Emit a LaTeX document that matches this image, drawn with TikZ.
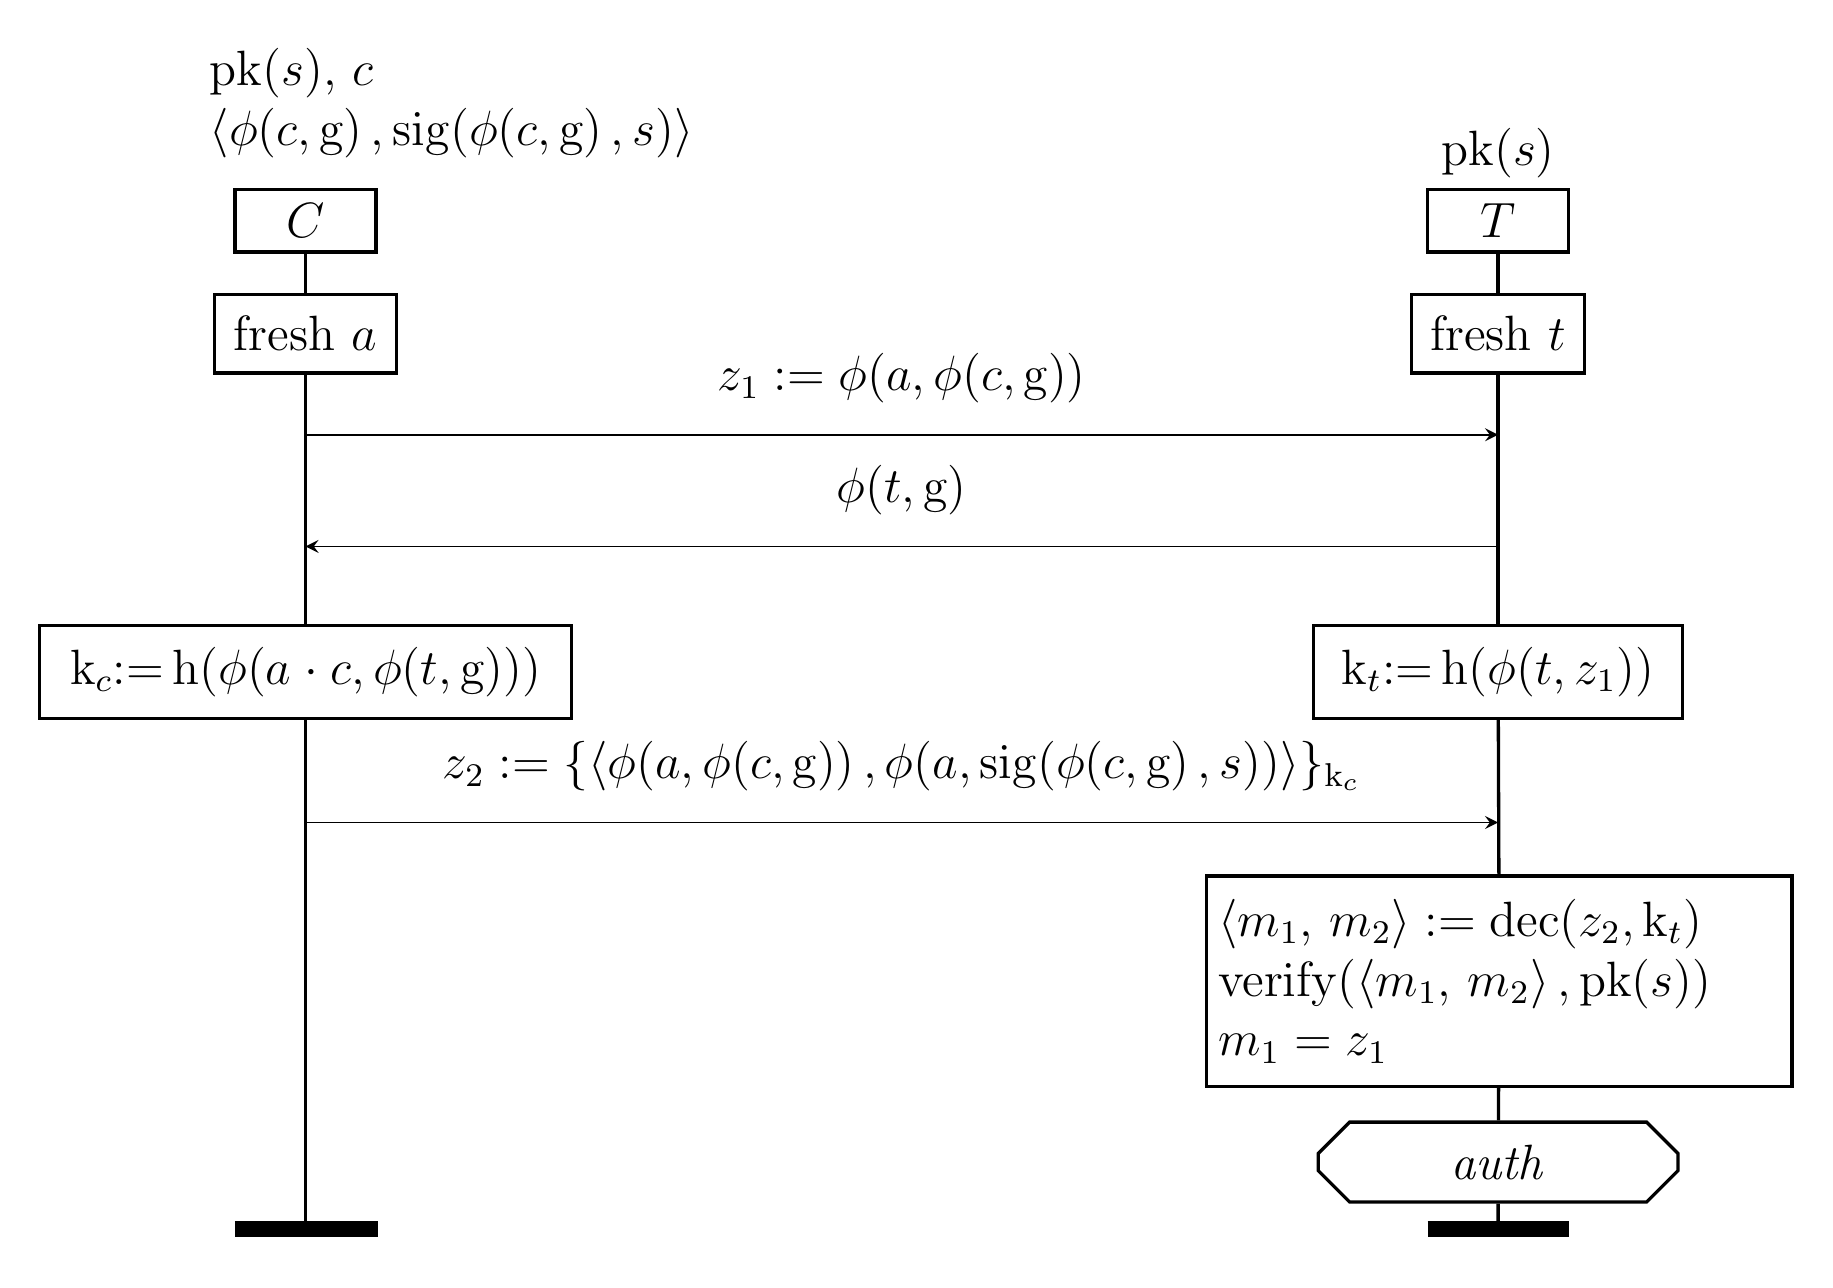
\documentclass[tikz,border=0pt]{standalone}
\usepackage{amsmath}
\usetikzlibrary{shapes.misc}
\tikzset{
  box/.style={draw, thick, inner sep=0pt},
  life/.style={thick},
  msg/.style={->, >=stealth},
  endbar/.style={line width=4pt}
}
\begin{document}
\fontsize{12}{14.5}\selectfont
\begin{tikzpicture}[x=0.01cm, y=-0.01cm]
  \useasboundingbox (0,0) rectangle (1560,1096);
  % knowledge
  \node[anchor=south west, align=left, inner sep=0pt] (kC) at (178,135)
    {$\mathrm{pk}(s)$, $c$\\ $\langle\phi(c,\mathrm{g})\,,\mathrm{sig}(\phi(c,\mathrm{g})\,,s)\rangle$};
  \node[anchor=south, inner sep=0pt] (kT) at (1275,152) {$\mathrm{pk}(s)$};
  % agents
  \node[box, text width=1.2cm, minimum height=0.53cm, align=center] (C) at (260,188) {$C$};
  \node[box, text width=1.2cm, minimum height=0.53cm, align=center] (T) at (1275,188) {$T$};
  \node[box, text width=1.55cm, minimum height=0.67cm, align=center] (fa) at (260,284) {fresh $a$};
  \node[box, text width=1.47cm, minimum height=0.67cm, align=center] (ft) at (1275,284) {fresh $t$};
  \node[box, text width=4.52cm, minimum height=0.79cm, align=center] (kc) at (260,572)
    {$\mathrm{k}_c{:=}\,\mathrm{h}(\phi(a\cdot c,\phi(t,\mathrm{g})))$};
  \node[box, text width=3.14cm, minimum height=0.79cm, align=center] (kt) at (1275,572)
    {$\mathrm{k}_t{:=}\,\mathrm{h}(\phi(t,z_1))$};
  \node[box, text width=4.78cm, minimum height=1.79cm, align=left, inner xsep=0.1cm] (chk) at (1276,835)
    {$\langle m_1,\,m_2\rangle := \mathrm{dec}(z_2,\mathrm{k}_t)$\\
     $\mathrm{verify}(\langle m_1,\,m_2\rangle\,,\mathrm{pk}(s))$\\
     $m_1 = z_1$};
  \node[draw, thick, chamfered rectangle, chamfered rectangle xsep=0.3cm, minimum width=3.06cm, minimum height=0.68cm, inner sep=0pt] (auth) at (1275,989) {$\mathit{auth}$};
  % end points
  \coordinate (eC) at (260,1046);
  \coordinate (eT) at (1275,1046);
  % lifelines
  \draw[life] (C) -- (fa);
  \draw[life] (fa) -- (kc);
  \draw[life] (kc) -- (eC);
  \draw[life] (T) -- (ft);
  \draw[life] (ft) -- (kt);
  \draw[life] (kt) -- (chk);
  \draw[life] (chk) -- (auth);
  \draw[life] (auth) -- (eT);
  \draw[endbar] ([xshift=-0.6cm]eC) -- ([xshift=0.62cm]eC);
  \draw[endbar] ([xshift=-0.6cm]eT) -- ([xshift=0.6cm]eT);
  % messages
  \coordinate (m1a) at (260,370); \coordinate (m1b) at (1275,370);
  \coordinate (m2a) at (1275,465); \coordinate (m2b) at (260,465);
  \coordinate (m3a) at (260,700); \coordinate (m3b) at (1275,700);
  \draw[msg] (m1a) -- node[above=0.12cm] {$z_1 := \phi(a,\phi(c,\mathrm{g}))$} (m1b);
  \draw[msg] (m2a) -- node[above=0.12cm] {$\phi(t,\mathrm{g})$} (m2b);
  \draw[msg] (m3a) -- node[above=0.12cm]
    {$z_2 := \{\langle\phi(a,\phi(c,\mathrm{g}))\,,\phi(a,\mathrm{sig}(\phi(c,\mathrm{g})\,,s))\rangle\}_{\mathrm{k}_c}$} (m3b);
\end{tikzpicture}
\end{document}
